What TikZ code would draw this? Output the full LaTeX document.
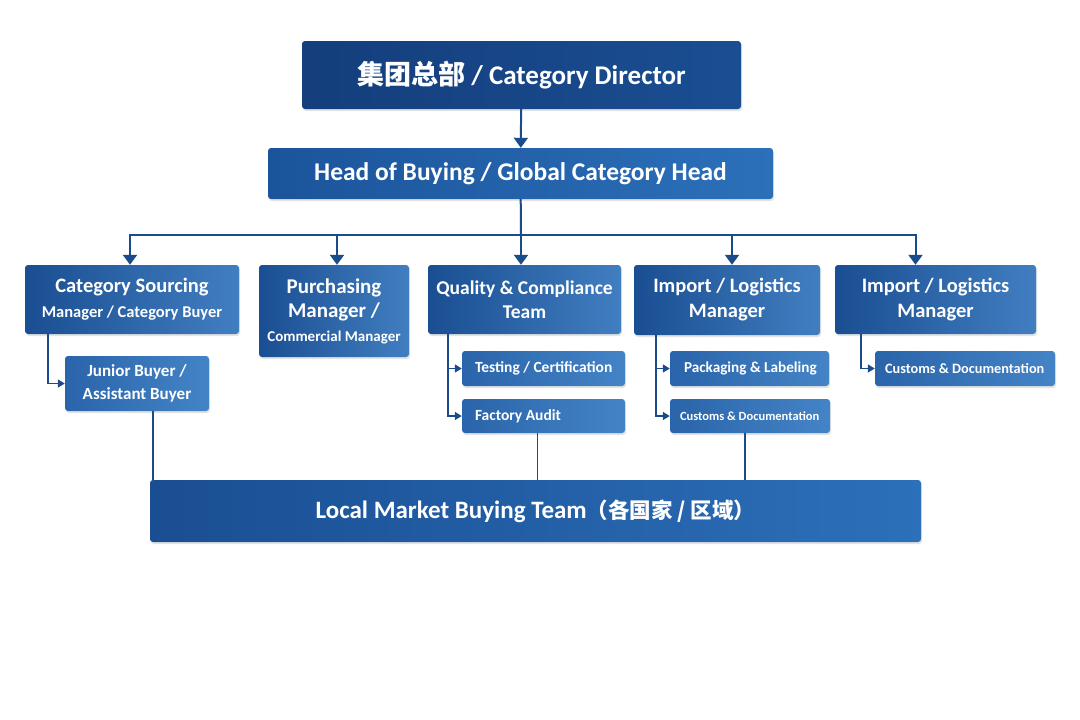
\documentclass[tikz,border=0pt]{standalone}
\usepackage{fontspec}
\setmainfont{Carlito}
\newfontfamily\cjk{Noto Sans CJK SC}
\usetikzlibrary{arrows.meta,shadows}

\definecolor{navyA}{RGB}{20,62,124}
\definecolor{navyB}{RGB}{26,78,146}
\definecolor{blueA}{RGB}{27,84,155}
\definecolor{blueB}{RGB}{44,112,186}
\definecolor{paleA}{RGB}{42,100,170}
\definecolor{paleB}{RGB}{68,132,198}
\definecolor{wire}{RGB}{26,76,140}

\newcommand{\fs}[2]{\fontsize{#1}{#2}\selectfont}
\newcommand{\lbox}[2]{\makebox[#1][l]{#2}}

\tikzset{
  box/.style={rounded corners=3pt, text=white, align=center, inner sep=0pt,
    drop shadow={opacity=0.22, shadow xshift=1pt, shadow yshift=-2pt}},
  topbox/.style={box, left color=navyA, right color=navyB},
  headbox/.style={box, left color=blueA, right color=blueB},
  rolebox/.style={box, left color=navyB, right color=blueB!90!white},
  subbox/.style={box, left color=paleA, right color=paleB},
  tagbox/.style={subbox, inner xsep=14pt},
  basebox/.style={box, left color=navyB, right color=blueB},
  link/.style={draw=wire, line width=2pt, >={Triangle[width=14pt,length=10pt]}},
  sublink/.style={draw=wire, line width=1.5pt, >={Triangle[width=8pt,length=7pt]}},
}

\begin{document}
\begin{tikzpicture}[x=1pt, y=-1pt]
    \useasboundingbox[fill=white] (0,0) rectangle (1080,720);

    % top two levels
    \node[topbox, minimum width=439pt, minimum height=68pt, font=\bfseries\fs{27}{32}] (dir) at (521.5,75)
        {{\cjk 集团总部} / Category Director};
    \node[headbox, minimum width=505pt, minimum height=51pt, font=\bfseries\fs{25.5}{30}] (head) at (520.5,173.5)
        {Head of Buying / Global Category Head};

    \draw[link,->] (dir) -- (head);

    % second level
    \node[rolebox, minimum width=214pt, minimum height=69pt, font=\bfseries\fs{20.5}{25}] (src) at (132,299.5)
        {Category Sourcing\\ \fs{16.5}{25}Manager / Category Buyer};
    \node[rolebox, minimum width=150pt, minimum height=92pt, font=\bfseries\fs{21}{24}] (pur) at (334,311)
        {Purchasing\\ Manager /\\ \fs{15}{24}Commercial Manager};
    \node[rolebox, minimum width=193pt, minimum height=69pt, font=\bfseries\fs{19.5}{24}] (qc) at (524.5,299.5)
        {Quality \& Compliance\\ Team};
    \node[rolebox, minimum width=186pt, minimum height=70pt, font=\bfseries\fs{20.5}{25}] (imp1) at (727,300)
        {Import / Logistics\\ Manager};
    \node[rolebox, minimum width=201pt, minimum height=69pt, font=\bfseries\fs{20.5}{25}] (imp2) at (935.5,299.5)
        {Import / Logistics\\ Manager};

    \coordinate (bus) at (521,235);
    \draw[link] (head) -- (bus);
    \draw[link,->] (bus) -| ([xshift=-2pt]src.north);
    \draw[link,->] (bus) -| ([xshift=3pt]pur.north);
    \draw[link,->] (bus) -- (bus |- qc.north);
    \draw[link,->] (bus) -| ([xshift=5pt]imp1.north);
    \draw[link,->] (bus) -| ([xshift=-20pt]imp2.north);

    % third level
    \node[subbox, minimum width=144pt, minimum height=55pt, font=\bfseries\fs{17}{23}] (jun) at (137,383.5)
        {Junior Buyer /\\ Assistant Buyer};
    \node[tagbox, inner xsep=13pt, minimum height=35pt, font=\bfseries\fs{15.5}{18}] (test) at (543.5,368.5)
        {\lbox{137pt}{Testing / Certification}};
    \node[tagbox, inner xsep=13pt, minimum height=34pt, font=\bfseries\fs{15.5}{18}] (audit) at (543.5,416)
        {\lbox{137pt}{Factory Audit}};
    \node[tagbox, minimum height=35pt, font=\bfseries\fs{15.2}{18}] (pack) at (749.5,368.5)
        {\lbox{131pt}{Packaging \& Labeling}};
    \node[tagbox, inner xsep=10pt, minimum height=34pt, font=\bfseries\fs{12.5}{16}] (cust1) at (750,416)
        {\lbox{140pt}{Customs \& Documentation}};
    \node[tagbox, inner xsep=10pt, minimum height=35pt, font=\bfseries\fs{14.3}{17}] (cust2) at (965,368.5)
        {\lbox{160pt}{Customs \& Documentation}};

    \draw[sublink,->] ([xshift=23pt]src.south west) |- (jun.west);
    \draw[sublink,->] ([xshift=20pt]qc.south west) |- (test.west);
    \draw[sublink,->] ([xshift=20pt]qc.south west) |- (audit.west);
    \draw[sublink,->] ([xshift=22pt]imp1.south west) |- (pack.west);
    \draw[sublink,->] ([xshift=22pt]imp1.south west) |- (cust1.west);
    \draw[sublink,->] ([xshift=26pt]imp2.south west) |- (cust2.west);

    % base
    \node[basebox, minimum width=771pt, minimum height=62pt, font=\bfseries\fs{25}{30}] (local) at (535.5,511)
        {Local Market Buying Team{\cjk\fs{21.5}{30}（各国家 / 区域）}};

    \draw[sublink] ([xshift=16pt]jun.south) -- ([xshift=16pt]jun.south |- local.north);
    \draw[sublink] ([xshift=-6pt]audit.south) -- ([xshift=-6pt]audit.south |- local.north);
    \draw[sublink] ([xshift=-5pt]cust1.south) -- ([xshift=-5pt]cust1.south |- local.north);

\end{tikzpicture}
\end{document}
